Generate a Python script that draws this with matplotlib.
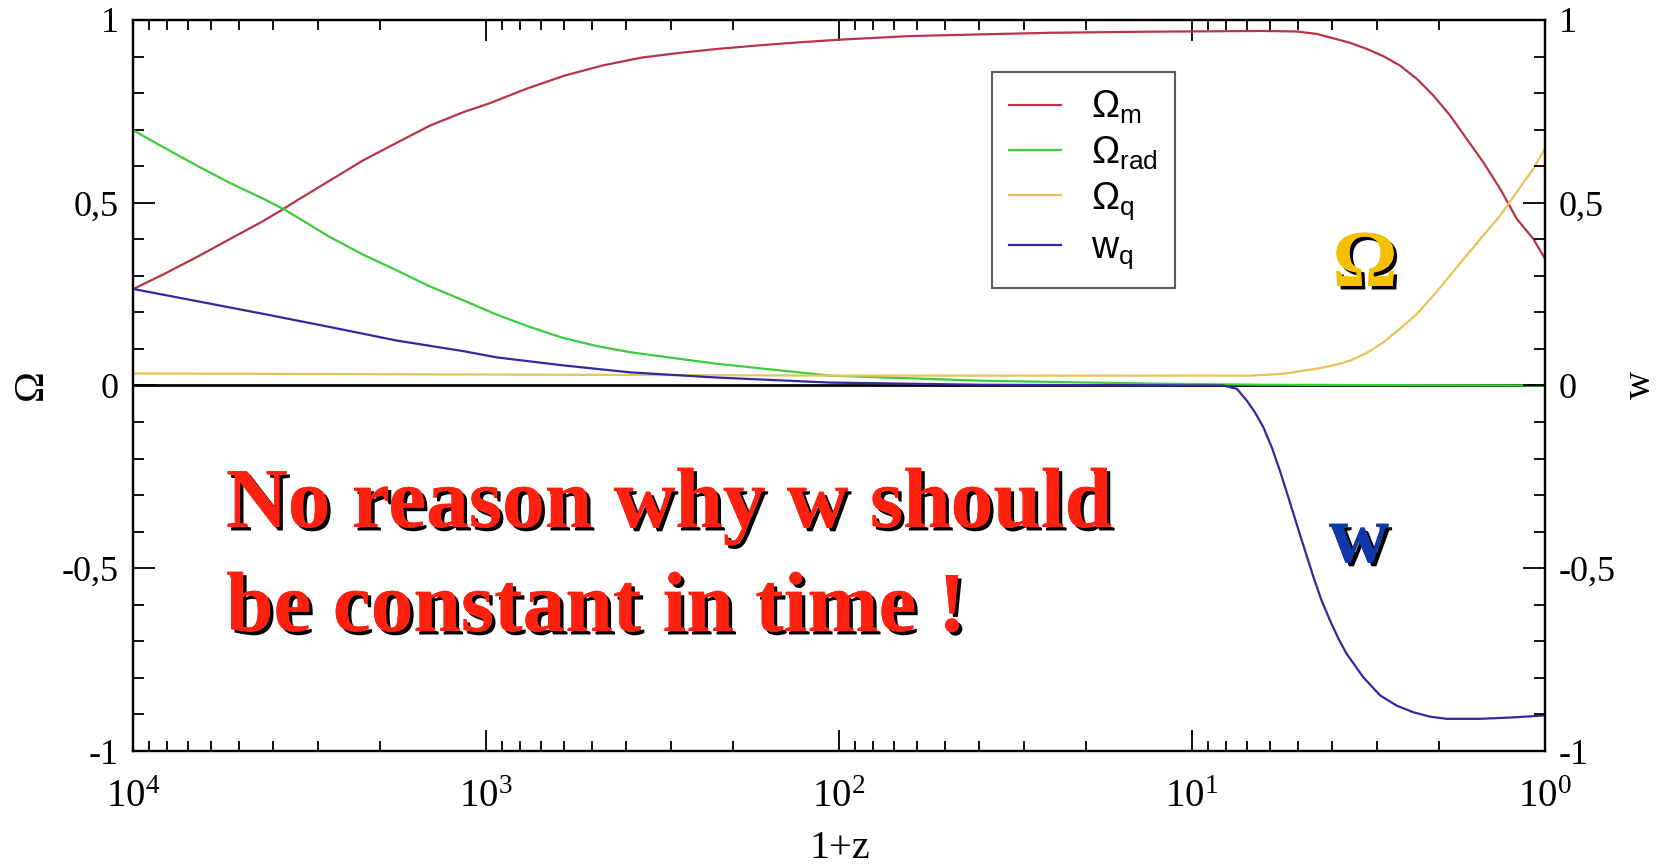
import numpy as np
import matplotlib
matplotlib.use("Agg")
import matplotlib.pyplot as plt
from matplotlib import patheffects as pe
from matplotlib.ticker import FixedLocator, FixedFormatter, LogLocator, NullFormatter

plt.rcParams['font.family'] = ['Liberation Serif', 'DejaVu Serif']
plt.rcParams['mathtext.fontset'] = 'custom'
plt.rcParams['mathtext.rm'] = 'Liberation Sans'
plt.rcParams['mathtext.it'] = 'Liberation Sans:italic'

# ---- data: log10(1+z) and values ----
logz_m = [3.999, 3.914, 3.820, 3.725, 3.631, 3.574, 3.536, 3.442, 3.348, 3.253, 3.159, 3.064,
          2.993, 2.885, 2.777, 2.668, 2.560, 2.452, 2.343, 2.235, 2.126, 2.001, 1.801, 1.584,
          1.402, 1.12, 0.80, 0.7035, 0.647, 0.600, 0.552, 0.505,
          0.458, 0.411, 0.363, 0.316, 0.269, 0.222, 0.175, 0.127, 0.080, 0.033, 0.0]
omega_m = [0.264, 0.304, 0.351, 0.401, 0.450, 0.483, 0.506, 0.561, 0.616, 0.664, 0.711, 0.748,
           0.771, 0.812, 0.848, 0.876, 0.897, 0.910, 0.921, 0.930, 0.938, 0.946, 0.956, 0.961,
           0.965, 0.968, 0.970, 0.9685, 0.962, 0.950, 0.9375, 0.921,
           0.901, 0.8755, 0.839, 0.793, 0.739, 0.675, 0.611, 0.538, 0.456, 0.401, 0.347]

logz_rad = [3.999, 3.914, 3.820, 3.725, 3.631, 3.574, 3.536, 3.442, 3.348, 3.253, 3.159, 3.064,
            2.970, 2.875, 2.781, 2.686, 2.592, 2.351, 2.026, 1.592, 1.1, 0.8, 0.0]
omega_rad = [0.698, 0.652, 0.602, 0.554, 0.511, 0.483, 0.461, 0.406, 0.358, 0.315, 0.271, 0.233,
             0.194, 0.160, 0.130, 0.108, 0.091, 0.060, 0.027, 0.013, 0.005, 0.002, 0.0]

logz_q = [4.0, 3.0, 2.0, 1.119, 0.836, 0.742, 0.647, 0.600, 0.552, 0.505, 0.458, 0.411, 0.363,
          0.316, 0.269, 0.222, 0.175, 0.127, 0.080, 0.033, 0.0]
omega_q = [0.033, 0.030, 0.027, 0.027, 0.027, 0.032, 0.046, 0.055, 0.068, 0.089, 0.118, 0.155,
           0.196, 0.246, 0.301, 0.356, 0.410, 0.465, 0.529, 0.593, 0.648]

logz_w = [3.999, 3.820, 3.631, 3.442, 3.253, 3.064, 2.970, 2.781, 2.592, 2.351, 2.026, 1.6, 0.95,
          0.911, 0.873, 0.845, 0.822, 0.798, 0.774, 0.751, 0.727, 0.704, 0.680, 0.656, 0.633,
          0.609, 0.585, 0.562, 0.515, 0.467, 0.420, 0.373, 0.326, 0.278, 0.184, 0.090, 0.005]
w_q = [0.264, 0.231, 0.196, 0.160, 0.123, 0.094, 0.077, 0.055, 0.036, 0.022, 0.008, 0.002, 0.0,
       0.0, -0.009, -0.041, -0.073, -0.114, -0.169, -0.233, -0.306, -0.378, -0.451, -0.524,
       -0.588, -0.643, -0.693, -0.734, -0.798, -0.848, -0.876, -0.894, -0.906, -0.912, -0.912,
       -0.908, -0.903]

labels = [r'$\Omega_{\rm m}$', r'$\Omega_{\rm rad}$', r'$\Omega_{\rm q}$', r'$\rm w_{\rm q}$']
colors = ['#b83448', '#3ccc3c', '#e6c458', '#3428a0']
y_ticks = [-1, -0.5, 0, 0.5, 1]
y_ticklabels = ['-1', '-0,5', '0', '0,5', '1']

W, H = 1662, 865
fig = plt.figure(figsize=(W / 100, H / 100), dpi=100)
L, R, T, B = 133, 1545, 20, 751
ax = fig.add_axes([L / W, 1 - B / H, (R - L) / W, (B - T) / H])

series = [(logz_m, omega_m), (logz_rad, omega_rad), (logz_q, omega_q), (logz_w, w_q)]
for (lz, v), c, lab in zip(series, colors, labels):
    ax.plot(10 ** np.array(lz), v, color=c, lw=1.6, label=lab)

ax.axhline(0, color='black', lw=2.0, zorder=1)

ax.set_xscale('log')
ax.set_xlim(1e4, 1)
ax.set_ylim(-1, 1)
ax.xaxis.set_minor_locator(LogLocator(base=10, subs=np.arange(2, 10)))
ax.xaxis.set_minor_formatter(NullFormatter())
ax.yaxis.set_major_locator(FixedLocator(y_ticks))
ax.yaxis.set_major_formatter(FixedFormatter(y_ticklabels))
ax.yaxis.set_minor_locator(FixedLocator(np.arange(-1, 1.01, 0.1)))

ax2 = ax.twinx()
ax2.set_ylim(-1, 1)
ax2.yaxis.set_major_locator(FixedLocator(y_ticks))
ax2.yaxis.set_major_formatter(FixedFormatter(y_ticklabels))
ax2.yaxis.set_minor_locator(FixedLocator(np.arange(-1, 1.01, 0.1)))

for a in (ax, ax2):
    for s in a.spines.values():
        s.set_linewidth(1.6)
ax.tick_params(axis='x', which='both', direction='in', top=True, width=1.3, pad=20)
ax.tick_params(axis='x', which='major', length=15, labelsize=28)
ax.tick_params(axis='x', which='minor', length=7)
ax.tick_params(axis='y', which='both', direction='in', width=1.3, pad=10)
ax.tick_params(axis='y', which='major', length=16, labelsize=26)
ax.tick_params(axis='y', which='minor', length=8)
ax2.tick_params(axis='y', which='both', direction='in', width=1.3, pad=10)
ax2.tick_params(axis='y', which='major', length=16, labelsize=26)
ax2.tick_params(axis='y', which='minor', length=8)

fig.text(840 / W, 1 - 848 / H, '1+z', fontsize=29, ha='center', va='center')
fig.text(32 / W, 1 - 385 / H, 'Ω', fontsize=30, ha='center', va='center', rotation=90)
fig.text(1640 / W, 1 - 385 / H, 'w', fontsize=28, ha='center', va='center', rotation=90)

leg = ax.legend(loc='upper left', bbox_to_anchor=(992 / W, 1 - 72 / H),
                bbox_transform=fig.transFigure, fontsize=27, frameon=True, fancybox=False,
                edgecolor='#333333', handlelength=1.4, handletextpad=0.8,
                labelspacing=0.22, borderpad=0.45, borderaxespad=0)
leg.get_frame().set_linewidth(1.5)
for t in leg.get_texts():
    t.set_family(['Liberation Sans', 'DejaVu Sans'])

shadow = [pe.withSimplePatchShadow(offset=(2.5, -2.5), shadow_rgbFace='black', alpha=1.0),
          pe.Normal()]
fig.text(226 / W, 1 - 527 / H, 'No reason why w should', fontsize=61.5, fontweight='bold',
         color='#ff2010', ha='left', va='baseline', path_effects=shadow)
fig.text(226 / W, 1 - 631 / H, 'be constant in time !', fontsize=61.5, fontweight='bold',
         color='#ff2010', ha='left', va='baseline', path_effects=shadow)
fig.text(1365 / W, 1 - 286 / H, 'Ω', fontsize=58, fontweight='bold',
         color='#f5c000', ha='center', va='baseline', path_effects=shadow)
fig.text(1359 / W, 1 - 562 / H, 'w', fontsize=60, fontweight='bold',
         color='#1038a8', ha='center', va='baseline', path_effects=shadow)

fig.savefig('out.png', dpi=100)
